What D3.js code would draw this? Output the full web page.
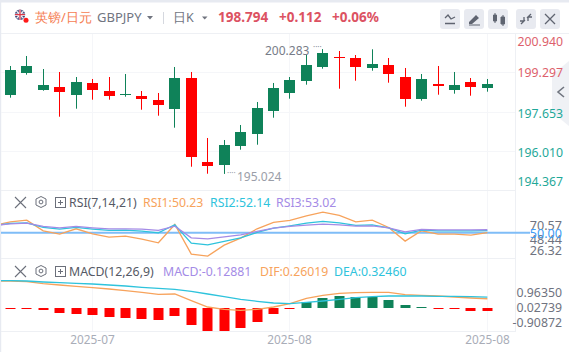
<!DOCTYPE html>
<html><head><meta charset="utf-8">
<script src="https://cdn.jsdelivr.net/npm/d3@7/dist/d3.min.js"></script>
<style>html,body{margin:0;padding:0;background:#fff}svg{display:block}text{font-family:"Noto Sans","Open Sans",sans-serif}</style>
</head><body><div id="c"></div>
<script>
const opens=[198.349,199.289,198.560,198.686,198.349,198.855,198.517,198.349,198.307,198.138,197.772,199.065,195.525,195.412,196.212,196.718,197.687,198.446,198.951,199.541,199.950,199.908,199.499,199.613,199.107,198.193,198.812,198.572,198.897,198.614];
const closes=[199.402,199.571,198.770,198.488,198.897,198.572,198.319,198.378,198.193,197.940,199.065,195.749,195.370,196.242,196.790,197.801,198.644,198.981,199.613,200.119,199.921,199.541,199.655,199.246,198.193,199.023,198.728,198.770,198.699,198.794];
const highs=[199.571,199.992,199.444,199.318,199.107,199.023,199.107,199.234,198.517,198.433,199.529,199.318,196.537,196.453,197.085,198.054,198.855,199.107,200.034,200.283,200.203,200.034,200.275,199.908,199.487,199.234,199.571,199.318,199.065,199.023];
const lows=[198.235,199.204,198.530,197.434,197.772,198.151,198.151,198.277,197.729,197.477,196.971,195.327,195.032,195.024,196.044,196.254,197.392,198.193,198.783,199.457,198.614,198.951,199.373,198.867,197.856,198.109,198.361,198.404,198.319,198.488];
const priceTicks=[200.940,199.297,197.653,196.010,194.367];
const priceLabels=["200.940","199.297","197.653","196.010","194.367"];
const rsi1=[60.89,62.54,51.98,48.68,53.96,49.01,45.71,46.70,43.73,40.10,58.25,28.88,26.90,37.79,44.72,53.96,60.23,62.21,66.83,70.46,67.16,60.89,62.54,55.28,41.75,51.98,48.68,48.68,47.69,50.23];
const rsi2=[59.24,59.90,55.28,53.63,55.28,53.63,52.31,52.64,51.65,50,57.92,39.77,38.12,41.42,45.05,50.33,54.62,56.93,59.57,61.22,59.90,57.26,57.92,54.95,49.01,52.64,51.98,51.98,51.98,52.14];
const rsi3=[58.91,59.57,56.27,54.95,56.27,54.95,53.96,53.96,53.63,52.31,56.60,45.05,44.06,46.04,48.02,51.32,54.62,56.27,57.59,58.58,57.92,56.60,56.93,54.95,50.99,53.30,52.97,52.97,52.97,53.02];
const rsiStart=[57.26,57.26,57.26];
const dif=[0.932,0.907,0.831,0.780,0.730,0.679,0.629,0.566,0.503,0.427,0.439,0.187,-0.053,-0.141,-0.179,-0.141,-0.053,0.073,0.275,0.389,0.465,0.490,0.503,0.503,0.414,0.389,0.364,0.326,0.288,0.26019];
const dea=[0.944,0.932,0.894,0.869,0.843,0.818,0.780,0.742,0.692,0.654,0.616,0.540,0.439,0.338,0.237,0.162,0.098,0.073,0.124,0.174,0.237,0.301,0.338,0.364,0.364,0.364,0.351,0.351,0.338,0.3246];
const macdStart=[0.932,0.944];
const macd=[-0.029,-0.029,-0.087,-0.203,-0.246,-0.304,-0.391,-0.435,-0.478,-0.522,-0.348,-0.739,-1.0,-1.0,-0.870,-0.609,-0.261,-0.029,0.246,0.435,0.522,0.478,0.478,0.348,0.130,0.02,-0.02,-0.058,-0.13,-0.12881];
const dateTicks=[5,17,29];
const dateLabels=["2025-07","2025-08","2025-08"];
const rsiLabels=[["70.57",225],["48.44",239],["26.32",250.7]];

const W=569,H=352,RED="#ff0000",GREEN="#0f8259",GRID="#f5f6f9",LINE="#eef0f4";
const ORANGE="#f7a35c",CYAN="#2ec3dc",PURPLE="#a48be6";
const svg=d3.select("#c").append("svg").attr("width",W).attr("height",H);
svg.append("rect").attr("width",W).attr("height",H).attr("fill","#fff");
svg.append("rect").attr("width",W).attr("height",2.5).attr("fill","#e7eaf1");
svg.append("rect").attr("y",2).attr("width",1.2).attr("height",H).attr("fill","#e7eaf1");

const idx=d3.range(30);
const x=d3.scaleBand().domain(idx).range([2.1,2.1+16.45*30]);
const cx=i=>Math.round(x(i)+x.bandwidth()/2-0.5)+0.5;
const y=d3.scaleLinear().domain([194.367,200.940]).range([189.5,33.5]);
const ry=d3.scaleLinear().domain([26.32,70.57]).range([256.7,212]);
const my=d3.scaleLinear().domain([0,1]).range([305.6,279.2]);
const by=d3.scaleLinear().domain([-1,0,1]).range([331,308,285]);

// grid
const g=svg.append("g");
[y(199.297),y(197.653),y(196.010)].forEach(v=>g.append("line").attr("x1",1).attr("x2",515).attr("y1",Math.round(v)+.5).attr("y2",Math.round(v)+.5).attr("stroke",GRID).attr("stroke-width",1));
dateTicks.forEach(i=>g.append("line").attr("x1",cx(i)).attr("x2",cx(i)).attr("y1",33).attr("y2",331).attr("stroke",GRID));
[33.5,190.5,258.5,331.5].forEach(v=>g.append("line").attr("x1",1).attr("x2",v===33.5?569:515).attr("y1",v).attr("y2",v).attr("stroke",LINE));
g.append("line").attr("x1",515.5).attr("x2",515.5).attr("y1",33).attr("y2",332).attr("stroke",LINE);

// collapse tab
svg.append("path").attr("d","M569 61 L552 75 V112 L569 126 Z").attr("fill","#eff1f5");
svg.append("path").attr("d","M564 87 L558 92 L564 97").attr("fill","none").attr("stroke","#70757f").attr("stroke-width",1.6);

// candles
const c=svg.append("g");
idx.forEach(i=>{
  const col=closes[i]>=opens[i]?GREEN:RED;
  c.append("line").attr("x1",cx(i)).attr("x2",cx(i)).attr("y1",y(highs[i])).attr("y2",y(lows[i])).attr("stroke",col).attr("stroke-width",1);
  const t=y(Math.max(opens[i],closes[i])),b=y(Math.min(opens[i],closes[i]));
  c.append("rect").attr("x",cx(i)-5.5).attr("width",11).attr("y",Math.round(t)).attr("height",Math.max(1,Math.round(b-t))).attr("fill",col);
});
const T=(s,px,py,size,fill,anchor,weight)=>svg.append("text").text(s).attr("x",px).attr("y",py).attr("font-size",size).attr("fill",fill).attr("text-anchor",anchor||"start").attr("font-weight",weight||400);
T("200.283",265,55,12,"#777c88");
T("····",313,50,8,"#8a8e99");
T("····",227,176,8,"#9a9ea8");
T("195.024",237,181,12,"#9a9ea8");

// price labels
priceTicks.forEach((v,i)=>{
  const dy=[12.5,5,6,6,-4][i];
  T(priceLabels[i],563,y(v)+dy,12.3,i<2?"#dd5f6c":"#1fa899","end");
});

// RSI
const lineR=d3.line().x((d,i)=>x.bandwidth()*(i-1)+x(0)+x.bandwidth()/2).y(d=>ry(d));
svg.append("line").attr("x1",1).attr("x2",530).attr("y1",ry(50)).attr("y2",ry(50)).attr("stroke","#7fbdf7").attr("stroke-width",2);
svg.append("clipPath").attr("id","pl").append("rect").attr("x",1).attr("y",190).attr("width",514).attr("height",142);
[[rsi1,ORANGE,rsiStart[0]],[rsi2,CYAN,rsiStart[1]],[rsi3,PURPLE,rsiStart[2]]].forEach(([s,col,st])=>{
  svg.append("path").attr("d",lineR([st,...s])).attr("fill","none").attr("stroke",col).attr("stroke-width",1.3).attr("clip-path","url(#pl)");
});
rsiLabels.forEach(([s,py])=>T(s,562,py+4.5,12.6,"#6f7380","end"));
T("50.00",562,237.8,12.6,"#3f9df5","end");

// MACD
const bc=svg.append("g");
idx.forEach(i=>{
  const col=macd[i]>=0?GREEN:RED;
  const a=by(macd[i]),z=by(0);
  const h=Math.max(1,Math.round(Math.abs(a-z)));
  bc.append("rect").attr("x",cx(i)-5).attr("width",10).attr("y",macd[i]>=0?308-h:308).attr("height",h).attr("fill",col);
});
const lineM=d3.line().x((d,i)=>x.bandwidth()*(i-1)+x(0)+x.bandwidth()/2).y(d=>my(d));
svg.append("path").attr("d",lineM([macdStart[0],...dif])).attr("fill","none").attr("stroke",ORANGE).attr("stroke-width",1.3).attr("clip-path","url(#pl)");
svg.append("path").attr("d",lineM([macdStart[1],...dea])).attr("fill","none").attr("stroke",CYAN).attr("stroke-width",1.3).attr("clip-path","url(#pl)");
T("0.96350",562,297,12.3,"#6f7380","end");
T("0.02739",562,312,12.3,"#6f7380","end");
T("-0.90872",562,327,12.3,"#6f7380","end");

// dates
dateTicks.forEach((i,k)=>T(dateLabels[k],cx(i),344,11.8,"#a9adb8","middle"));

// indicator legends
function head(py,label,items){
  svg.append("path").attr("d",`M15 ${py-5} L26 ${py+6} M26 ${py-5} L15 ${py+6}`).attr("stroke","#6b6f7a").attr("stroke-width",1.1);
  svg.append("path").attr("d",`M41 ${py-5.5} L46 ${py-3} V${py+3} L41 ${py+5.5} L36 ${py+3} V${py-3} Z`).attr("fill","none").attr("stroke","#6b6f7a");
  svg.append("circle").attr("cx",41).attr("cy",py).attr("r",1.9).attr("fill","none").attr("stroke","#6b6f7a");
  svg.append("rect").attr("x",55.5).attr("y",py-4.5).attr("width",10).attr("height",10).attr("fill","none").attr("stroke","#6b6f7a");
  svg.append("path").attr("d",`M58 ${py+.5} H63 M60.5 ${py-2} V${py+3}`).attr("stroke","#6b6f7a");
  T(label,69,py+4.5,12.3,"#555965");
  items.forEach(([s,px,col])=>T(s,px,py+4.5,12.3,col));
}
head(202,"RSI(7,14,21)",[["RSI1:50.23",143,ORANGE],["RSI2:52.14",210,CYAN],["RSI3:53.02",276,PURPLE]]);
head(271,"MACD(12,26,9)",[["MACD:-0.12881",163,PURPLE],["DIF:0.26019",260,ORANGE],["DEA:0.32460",334,CYAN]]);

// header
svg.append("circle").attr("cx",20).attr("cy",14.7).attr("r",5.2).attr("fill","#3a4178");
svg.append("path").attr("d","M16.5 11 L23.5 18.5 M23.5 11 L16.5 18.5").attr("stroke","#f3f3f6").attr("stroke-width",1.2);
svg.append("path").attr("d","M15 14.7 H25 M20 9.7 V19.7").attr("stroke","#f3f3f6").attr("stroke-width",2.4);
svg.append("path").attr("d","M15 14.7 H25 M20 9.7 V19.7").attr("stroke","#d8384a").attr("stroke-width",1.3);
svg.append("circle").attr("cx",26).attr("cy",20.3).attr("r",2.5).attr("fill","#ff1a1a");
T("英镑/日元",35,21.5,12.7,"#f57d52");
T("GBPJPY",97,22,13,"#70747f");
svg.append("path").attr("d","M147 16 L153 16 L150 19.5 Z").attr("fill","#70747f");
svg.append("line").attr("x1",163.5).attr("x2",163.5).attr("y1",12).attr("y2",24).attr("stroke","#d5d8df");
T("日K",173,21.5,12.5,"#70747f");
svg.append("path").attr("d","M202 16.5 L207.5 16.5 L204.7 19.5 Z").attr("fill","#70747f");
T("198.794",218,21.5,13.5,"#dc5262","start",700);
T("+0.112",279,21.5,13.5,"#dc5262","start",700);
T("+0.06%",332,21.5,13.5,"#dc5262","start",700);
[440,464,488,516,540].forEach(bx=>svg.append("rect").attr("x",bx).attr("y",9).attr("width",20).attr("height",20).attr("rx",3).attr("fill","#e8eaf0"));
const ic="#5f6470";
svg.append("path").attr("d","M445 18 L448 15 L451 19 L455 17 M445 23.5 H455").attr("fill","none").attr("stroke",ic).attr("stroke-width",1.3);
svg.append("path").attr("d","M469 22 L476 15 L479 18 L472 24 H469 Z M469 25.5 H480 V24.5 H469 Z").attr("fill",ic);
svg.append("path").attr("d","M493.5 15 H496.5 V21 H493.5 Z M501 17 H504.5 V24 H501 Z").attr("fill",ic).attr("stroke",ic);
svg.append("path").attr("d","M495 13 V23 M503 15 V26").attr("stroke",ic);
svg.append("path").attr("d","M521 24 L525 20 M531 14 L527 18 M524 17 V21 H520 M528 21 V17 H532").attr("fill","none").attr("stroke",ic).attr("stroke-width",1.3);
svg.append("path").attr("d","M545 14 L555 24 M555 14 L545 24").attr("stroke",ic).attr("stroke-width",1.3);
</script></body></html>
